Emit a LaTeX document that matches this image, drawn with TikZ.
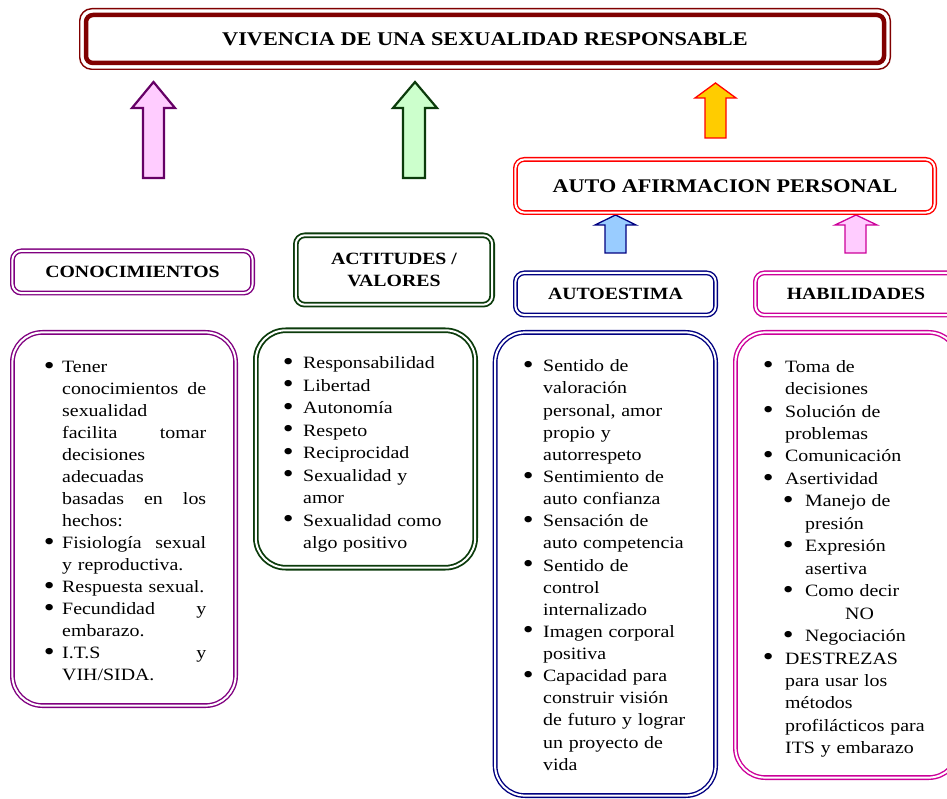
\documentclass[tikz,border=0pt]{standalone}
\usepackage{fontspec}
\setmainfont{Liberation Serif}[FakeStretch=1.15]
\definecolor{maroonc}{HTML}{800000}
\definecolor{purplec}{HTML}{800080}
\definecolor{purplea}{HTML}{660066}
\definecolor{greenc}{HTML}{0B3B0B}
\definecolor{navyc}{HTML}{000080}
\definecolor{magc}{HTML}{CC0099}
\definecolor{redc}{HTML}{FF0000}
\definecolor{pinkf}{HTML}{FFCCFF}
\definecolor{greenf}{HTML}{CCFFCC}
\definecolor{goldf}{HTML}{FFCC00}
\definecolor{bluef}{HTML}{99CCFF}
\newcommand\nl{\hfil\break}
\newcommand\mybullet{\raisebox{-1.6pt}{\scalebox{1.55}{\textbullet}}}
\newcommand\bul[3]{\par\noindent\hangindent=#2\hangafter=1\relax\rlap{\hspace{#1}\makebox[0pt]{\mybullet}}\hspace{#2}\strut#3}
\tikzset{
  dbl/.style={draw=#1, double=white, double distance=2pt, line width=1.4pt},
  hdr/.style={font=\fontsize{17.2}{22.6}\selectfont\bfseries, align=center, inner sep=0pt, rounded corners=9pt},
  lstframe/.style={inner sep=0pt, rounded corners=30pt},
  body/.style={anchor=north west, inner sep=0pt},
  blockarrow/.style={line join=miter, miter limit=10}
}
\begin{document}
\begin{tikzpicture}[x=1pt,y=-1pt]
\clip (0,0) rectangle (947,799);
\useasboundingbox (0,0) rectangle (947,799);
% title
\node[draw=maroonc, line width=1.4pt, rounded corners=12pt, minimum width=810.6, minimum height=60.6, inner sep=0pt] (titleframe) at (485,39) {};
\node[draw=maroonc, line width=4.5pt, rounded corners=7pt, minimum width=798, minimum height=48, inner sep=0pt,
      font=\fontsize{19.4}{23}\selectfont\bfseries] (title) at (485,39) {VIVENCIA DE UNA SEXUALIDAD RESPONSABLE};
% arrows
\filldraw[blockarrow, draw=purplea, fill=pinkf, line width=2.2pt] (143,178) -- (143,108) -- (132,108) -- (153.5,82) -- (175,108) -- (164,108) -- (164,178) -- cycle;
\filldraw[blockarrow, draw=greenc, fill=greenf, line width=2.2pt] (403,178) -- (403,108) -- (393,108) -- (415,82) -- (437,108) -- (425,108) -- (425,178) -- cycle;
\filldraw[blockarrow, draw=redc, fill=goldf, line width=1.3pt] (705,138) -- (705,98) -- (695,98) -- (715.5,83) -- (736,98) -- (726,98) -- (726,138) -- cycle;
\filldraw[blockarrow, draw=navyc, fill=bluef, line width=1.3pt] (605,253) -- (605,225) -- (595,225) -- (615.5,215) -- (636,225) -- (626,225) -- (626,253) -- cycle;
\filldraw[blockarrow, draw=magc, fill=pinkf, line width=1.3pt] (845,253) -- (845,225) -- (835,225) -- (856,215) -- (877,225) -- (866,225) -- (866,253) -- cycle;
% headers
\node[hdr, dbl=redc, font=\fontsize{19.3}{23}\selectfont\bfseries, minimum width=419.2, minimum height=53.2] (afirm) at (725,186) {AUTO AFIRMACION PERSONAL};
\node[hdr, dbl=purplec, minimum width=240.2, minimum height=42.2] (conocH) at (132.5,272) {CONOCIMIENTOS};
\node[hdr, dbl=greenc, line width=1.8pt, minimum width=196.4, minimum height=69.4] (actitH) at (394,270) {ACTITUDES /\\VALORES};
\node[hdr, dbl=navyc, minimum width=200.2, minimum height=42.2] (autoH) at (615.5,294) {AUTOESTIMA};
\node[hdr, dbl=magc, minimum width=201.2, minimum height=42.2] (habH) at (856,294) {HABILIDADES};
% list frames
\node[lstframe, dbl=purplec, minimum width=223.2, minimum height=373.2] (conocL) at (124,519) {};
\node[lstframe, dbl=greenc, line width=1.8pt, minimum width=219.4, minimum height=237.4] (actitL) at (365.5,449) {};
\node[lstframe, dbl=navyc, minimum width=220.5, minimum height=463.2] (autoL) at (605.35,564) {};
\node[lstframe, dbl=magc, minimum width=223.2, minimum height=445.2] (habL) at (847,555) {};
% list texts
\node[body, text width=166pt, font=\fontsize{17.3}{22}\selectfont] (conocT) at (40,350.3) {%
\bul{9pt}{22pt}{Tener\nl conocimientos\hfill de\nl sexualidad\nl facilita\hfill tomar\nl decisiones\nl adecuadas\nl basadas\hfill en\hfill los\nl hechos:}
\bul{9pt}{22pt}{Fisiología\hfill sexual\nl y reproductiva.}
\bul{9pt}{22pt}{Respuesta sexual.}
\bul{9pt}{22pt}{Fecundidad\hfill y\nl embarazo.}
\bul{9pt}{22pt}{I.T.S\hfill y\nl VIH/SIDA.}\par};
\node[body, text width=190pt, font=\fontsize{17.3}{22.5}\selectfont] (actitT) at (278,346) {%
\bul{10pt}{25pt}{Responsabilidad}
\bul{10pt}{25pt}{Libertad}
\bul{10pt}{25pt}{Autonomía}
\bul{10pt}{25pt}{Respeto}
\bul{10pt}{25pt}{Reciprocidad}
\bul{10pt}{25pt}{Sexualidad y\nl amor}
\bul{10pt}{25pt}{Sexualidad como\nl algo positivo}\par};
\node[body, text width=195pt, font=\fontsize{17.3}{22.13}\selectfont] (autoT) at (518,349.5) {%
\bul{10pt}{25pt}{Sentido de\nl valoración\nl personal, amor\nl propio y\nl autorrespeto}
\bul{10pt}{25pt}{Sentimiento de\nl auto confianza}
\bul{10pt}{25pt}{Sensación de\nl auto competencia}
\bul{10pt}{25pt}{Sentido de\nl control\nl internalizado}
\bul{10pt}{25pt}{Imagen corporal\nl positiva}
\bul{10pt}{25pt}{Capacidad para\nl construir visión\nl de futuro y lograr\nl un proyecto de\nl vida}\par};
\node[body, text width=185pt, font=\fontsize{17.3}{22.45}\selectfont] (habT) at (758,349.5) {%
\bul{10pt}{27pt}{Toma de\nl decisiones}
\bul{10pt}{27pt}{Solución de\nl problemas}
\bul{10pt}{27pt}{Comunicación}
\bul{10pt}{27pt}{Asertividad}
\bul{30pt}{47pt}{Manejo de\nl presión}
\bul{30pt}{47pt}{Expresión\nl asertiva}
\bul{30pt}{47pt}{Como decir\nl \hspace*{40pt}NO}
\bul{30pt}{47pt}{Negociación}
\bul{10pt}{27pt}{DESTREZAS\nl para usar los\nl métodos\nl profilácticos para\nl ITS y embarazo}\par};
\end{tikzpicture}
\end{document}
